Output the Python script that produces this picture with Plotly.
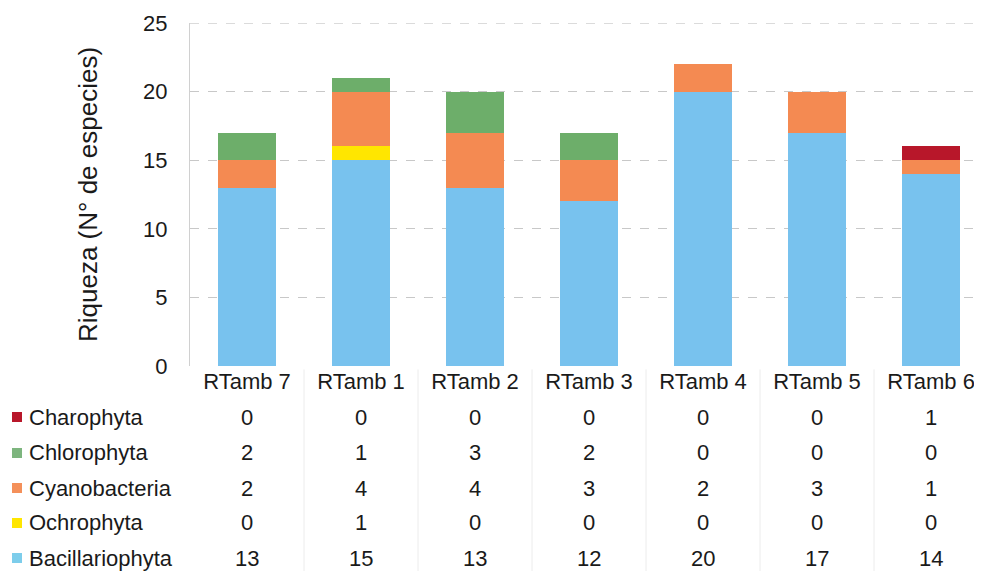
import plotly.graph_objects as go

sitios = ["RTamb 7", "RTamb 1", "RTamb 2", "RTamb 3", "RTamb 4", "RTamb 5", "RTamb 6"]

# de abajo hacia arriba en la pila
bacillariophyta = [13, 15, 13, 12, 20, 17, 14]
ochrophyta = [0, 1, 0, 0, 0, 0, 0]
cyanobacteria = [2, 4, 4, 3, 2, 3, 1]
chlorophyta = [2, 1, 3, 2, 0, 0, 0]
charophyta = [0, 0, 0, 0, 0, 0, 1]

grupos = ["Bacillariophyta", "Ochrophyta", "Cyanobacteria", "Chlorophyta", "Charophyta"]
valores = [bacillariophyta, ochrophyta, cyanobacteria, chlorophyta, charophyta]
colores = ["#78C2EE", "#FFE600", "#F48A52", "#6DAE6A", "#B8172A"]
colores_leyenda = ["#7DCDEB", "#FFE600", "#F4905A", "#7DB57E", "#B8172A"]

FONT = "Liberation Sans, Arial, sans-serif"
# la pagina tiene 8px de margen en body, se compensa aqui
OFF = 8
L, W, H_PLOT = 190 - OFF, 792, 343  # area del grafico en px

def px_x(p):
    return (p - OFF - L) / W

fig = go.Figure()
for nombre, vals, col in zip(grupos, valores, colores):
    fig.add_trace(go.Bar(x=sitios, y=vals, name=nombre, marker_color=col,
                         marker_line_width=0, showlegend=False))

# tabla de datos debajo del grafico
filas_y = [-0.5598, -0.4577, -0.3557, -0.2536, -0.1487]
for nombre, vals, col, fy in zip(grupos, valores, colores_leyenda, filas_y):
    fig.add_shape(type="rect", xref="paper", yref="paper",
                  x0=px_x(12), x1=px_x(22), y0=fy - 5 / H_PLOT, y1=fy + 5 / H_PLOT,
                  fillcolor=col, line_width=0)
    fig.add_annotation(x=px_x(27), xref="paper", y=fy, yref="paper",
                       xanchor="left", yanchor="middle",
                       text=nombre, showarrow=False,
                       font=dict(size=22, family=FONT, color="#1a1a1a"))
    for s, v in zip(sitios, vals):
        fig.add_annotation(x=s, xref="x", y=fy, yref="paper", yanchor="middle",
                           text=str(v), showarrow=False,
                           font=dict(size=22, family=FONT, color="#1a1a1a"))

# lineas tenues de la tabla
for i in range(1, 7):
    fig.add_shape(type="line", xref="x", yref="paper", x0=i - 0.5, x1=i - 0.5,
                  y0=-0.01, y1=-0.62, line=dict(color="#ececec", width=1))

# borde superior
fig.add_shape(type="line", xref="paper", yref="y", x0=0, x1=1, y0=25, y1=25,
              line=dict(color="#b8b8b8", width=1, dash="dash"))

fig.update_layout(
    width=982 - OFF, height=571 - OFF,
    margin=dict(l=L, r=0, t=23 - OFF, b=205),
    barmode="stack", bargap=0.49,
    plot_bgcolor="white", paper_bgcolor="white",
    font=dict(family=FONT, size=22, color="#1a1a1a"),
)
fig.update_xaxes(showgrid=False, tickfont=dict(size=22), ticks="", showline=False,
                 range=[-0.5, 6.447], automargin=False)
fig.update_yaxes(range=[0, 25], dtick=5, showgrid=True, gridcolor="#c8c8c8",
                 griddash="dash", gridwidth=1, showline=True, linecolor="#d0d0d0",
                 zeroline=False, tickfont=dict(size=22), ticks="", ticklabelstandoff=17,
                 automargin=False,
                 title=dict(text="Riqueza (N° de especies)", font=dict(size=26), standoff=38))

fig.write_html("out.html")
